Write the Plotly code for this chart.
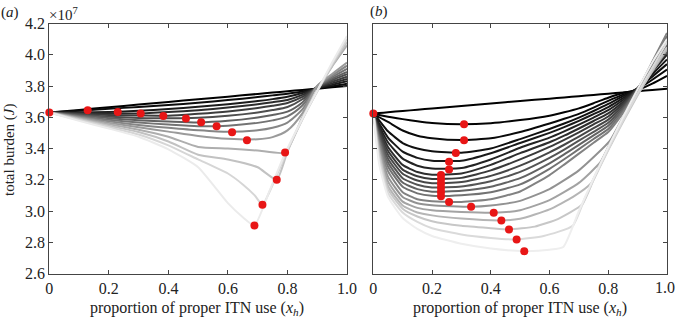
import plotly.graph_objects as go

# ---------------- data (total burden in units of 1e7) ----------------
x_ticks = [0, 0.2, 0.4, 0.6, 0.8, 1.0]
x_tick_text = ["0", "0.2", "0.4", "0.6", "0.8", "1.0"]
y_ticks = [2.6, 2.8, 3.0, 3.2, 3.4, 3.6, 3.8, 4.0, 4.2]
y_tick_text = ["2.6", "2.8", "3.0", "3.2", "3.4", "3.6", "3.8", "4.0", "4.2"]

# panel (a): darker curves on a common grid
a_x = [0, 0.1, 0.2, 0.3, 0.4, 0.5, 0.6, 0.7, 0.75, 0.8, 0.85, 0.9, 0.95, 1.0]
a_c0 = [3.630, 3.647, 3.664, 3.681, 3.698, 3.715, 3.732, 3.749, 3.758, 3.766, 3.775, 3.783, 3.792, 3.800]
a_c1 = [3.630, 3.642, 3.654, 3.666, 3.678, 3.693, 3.710, 3.729, 3.740, 3.751, 3.765, 3.785, 3.799, 3.815]
a_c2 = [3.630, 3.632, 3.634, 3.641, 3.653, 3.667, 3.684, 3.704, 3.716, 3.731, 3.755, 3.787, 3.807, 3.830]
a_c3 = [3.630, 3.627, 3.624, 3.624, 3.633, 3.645, 3.662, 3.683, 3.696, 3.711, 3.743, 3.789, 3.817, 3.845]
a_c4 = [3.630, 3.622, 3.614, 3.611, 3.610, 3.622, 3.637, 3.659, 3.673, 3.691, 3.730, 3.791, 3.827, 3.860]
a_c5 = [3.630, 3.617, 3.604, 3.596, 3.593, 3.597, 3.610, 3.631, 3.646, 3.666, 3.715, 3.793, 3.837, 3.875]
a_c6 = [3.630, 3.612, 3.594, 3.581, 3.573, 3.567, 3.577, 3.599, 3.615, 3.636, 3.695, 3.795, 3.847, 3.890]
a_c7 = [3.630, 3.607, 3.584, 3.566, 3.553, 3.543, 3.546, 3.564, 3.580, 3.606, 3.675, 3.797, 3.857, 3.910]
a_c8 = [3.630, 3.602, 3.574, 3.551, 3.533, 3.517, 3.507, 3.517, 3.533, 3.566, 3.650, 3.799, 3.867, 3.930]
a_c9 = [3.630, 3.597, 3.564, 3.536, 3.508, 3.480, 3.462, 3.459, 3.473, 3.516, 3.625, 3.801, 3.877, 3.950]
a_dark = [a_c0, a_c1, a_c2, a_c3, a_c4, a_c5, a_c6, a_c7, a_c8, a_c9]

# panel (a): lighter curves (own x points)
a_c10_x = [0, 0.1, 0.2, 0.3, 0.4, 0.5, 0.6, 0.7, 0.792, 0.85, 0.9, 0.95, 1.0]
a_c10_y = [3.630, 3.592, 3.555, 3.520, 3.475, 3.410, 3.400, 3.387, 3.374, 3.600, 3.775, 3.925, 4.060]
a_c11_x = [0, 0.1, 0.2, 0.3, 0.4, 0.5, 0.6, 0.7, 0.764, 0.8, 0.85, 0.9, 0.95, 1.0]
a_c11_y = [3.630, 3.587, 3.546, 3.505, 3.445, 3.360, 3.330, 3.280, 3.200, 3.380, 3.585, 3.765, 3.930, 4.080]
a_c12_x = [0, 0.1, 0.2, 0.3, 0.4, 0.5, 0.6, 0.65, 0.69, 0.716, 0.76, 0.8, 0.85, 0.9, 0.95, 1.0]
a_c12_y = [3.630, 3.582, 3.537, 3.490, 3.420, 3.330, 3.240, 3.170, 3.100, 3.040, 3.210, 3.390, 3.590, 3.770, 3.940, 4.100]
a_c13_x = [0, 0.1, 0.2, 0.3, 0.4, 0.5, 0.6, 0.65, 0.689, 0.74, 0.79, 0.85, 0.9, 0.95, 1.0]
a_c13_y = [3.630, 3.577, 3.528, 3.475, 3.395, 3.280, 3.050, 2.960, 2.907, 3.130, 3.360, 3.590, 3.770, 3.950, 4.120]
a_light_x = [a_c10_x, a_c11_x, a_c12_x, a_c13_x]
a_light_y = [a_c10_y, a_c11_y, a_c12_y, a_c13_y]

a_dot_x = [0, 0.129, 0.23, 0.307, 0.383, 0.459, 0.51, 0.562, 0.614, 0.664, 0.792, 0.764, 0.716, 0.689]
a_dot_y = [3.630, 3.645, 3.634, 3.624, 3.608, 3.592, 3.568, 3.542, 3.504, 3.453, 3.374, 3.200, 3.040, 2.907]

# panel (b): smoother curves on a common grid
b_x = [0, 0.02, 0.05, 0.1, 0.15, 0.2, 0.3, 0.4, 0.5, 0.6, 0.65, 0.7, 0.75, 0.8, 0.85, 0.9, 0.95, 1.0]
b_c0 = [3.624, 3.627, 3.632, 3.640, 3.648, 3.656, 3.672, 3.688, 3.704, 3.719, 3.727, 3.735, 3.743, 3.751, 3.759, 3.767, 3.775, 3.783]
b_c1 = [3.624, 3.615, 3.603, 3.588, 3.574, 3.563, 3.555, 3.562, 3.582, 3.610, 3.632, 3.657, 3.690, 3.725, 3.755, 3.775, 3.815, 3.865]
b_c2 = [3.624, 3.600, 3.570, 3.515, 3.482, 3.466, 3.454, 3.465, 3.505, 3.560, 3.590, 3.622, 3.662, 3.705, 3.745, 3.780, 3.840, 3.905]
b_c3 = [3.624, 3.580, 3.510, 3.435, 3.400, 3.383, 3.373, 3.400, 3.460, 3.525, 3.560, 3.598, 3.640, 3.685, 3.735, 3.785, 3.860, 3.940]
b_c4 = [3.624, 3.560, 3.470, 3.380, 3.340, 3.322, 3.322, 3.370, 3.435, 3.500, 3.537, 3.577, 3.620, 3.665, 3.722, 3.785, 3.875, 3.970]
b_c5 = [3.624, 3.545, 3.440, 3.335, 3.290, 3.272, 3.275, 3.330, 3.405, 3.470, 3.510, 3.553, 3.598, 3.645, 3.710, 3.785, 3.890, 4.000]
b_c6 = [3.624, 3.530, 3.410, 3.295, 3.250, 3.232, 3.240, 3.295, 3.370, 3.440, 3.482, 3.528, 3.576, 3.625, 3.698, 3.785, 3.900, 4.020]
b_c7 = [3.624, 3.515, 3.385, 3.265, 3.222, 3.205, 3.212, 3.260, 3.330, 3.410, 3.455, 3.503, 3.554, 3.605, 3.686, 3.785, 3.910, 4.040]
b_c8 = [3.624, 3.500, 3.360, 3.238, 3.195, 3.178, 3.185, 3.225, 3.290, 3.375, 3.424, 3.476, 3.530, 3.585, 3.674, 3.785, 3.920, 4.060]
b_c9 = [3.624, 3.485, 3.335, 3.210, 3.168, 3.151, 3.157, 3.190, 3.250, 3.340, 3.393, 3.450, 3.507, 3.565, 3.662, 3.780, 3.930, 4.080]
b_c10 = [3.624, 3.470, 3.310, 3.182, 3.140, 3.124, 3.129, 3.155, 3.210, 3.305, 3.362, 3.423, 3.484, 3.545, 3.650, 3.780, 3.940, 4.100]
b_c11 = [3.624, 3.455, 3.285, 3.155, 3.113, 3.097, 3.101, 3.120, 3.170, 3.270, 3.331, 3.396, 3.461, 3.525, 3.638, 3.775, 3.950, 4.120]
b_c12 = [3.624, 3.440, 3.255, 3.120, 3.075, 3.062, 3.058, 3.075, 3.125, 3.230, 3.297, 3.367, 3.437, 3.505, 3.626, 3.770, 3.955, 4.140]
b_smooth = [b_c0, b_c1, b_c2, b_c3, b_c4, b_c5, b_c6, b_c7, b_c8, b_c9, b_c10, b_c11, b_c12]

# panel (b): lightest curves with a corner (own x points)
b_c13_x = [0, 0.02, 0.05, 0.1, 0.15, 0.2, 0.333, 0.4, 0.5, 0.6, 0.7, 0.806, 0.85, 0.9, 0.95, 1.0]
b_c13_y = [3.624, 3.420, 3.220, 3.090, 3.050, 3.037, 3.027, 3.035, 3.065, 3.140, 3.260, 3.450, 3.600, 3.760, 3.910, 4.040]
b_c14_x = [0, 0.02, 0.05, 0.1, 0.15, 0.2, 0.3, 0.41, 0.5, 0.6, 0.7, 0.774, 0.81, 0.86, 0.91, 0.96, 1.0]
b_c14_y = [3.624, 3.400, 3.190, 3.060, 3.020, 3.005, 2.994, 2.989, 3.005, 3.070, 3.180, 3.314, 3.450, 3.620, 3.780, 3.920, 4.030]
b_c15_x = [0, 0.02, 0.05, 0.1, 0.15, 0.2, 0.3, 0.436, 0.5, 0.6, 0.68, 0.742, 0.78, 0.83, 0.88, 0.93, 1.0]
b_c15_y = [3.624, 3.380, 3.160, 3.035, 2.990, 2.972, 2.952, 2.940, 2.950, 3.010, 3.090, 3.178, 3.330, 3.510, 3.680, 3.840, 4.040]
b_c16_x = [0, 0.02, 0.05, 0.1, 0.15, 0.2, 0.3, 0.4, 0.462, 0.55, 0.63, 0.711, 0.75, 0.8, 0.85, 0.9, 0.95, 1.0]
b_c16_y = [3.624, 3.360, 3.140, 3.015, 2.965, 2.935, 2.905, 2.890, 2.882, 2.900, 2.950, 3.042, 3.200, 3.390, 3.570, 3.740, 3.900, 4.050]
b_c17_x = [0, 0.02, 0.05, 0.1, 0.15, 0.2, 0.3, 0.4, 0.488, 0.58, 0.679, 0.72, 0.77, 0.82, 0.87, 0.92, 0.96, 1.0]
b_c17_y = [3.624, 3.330, 3.115, 2.990, 2.930, 2.890, 2.850, 2.828, 2.818, 2.840, 2.906, 3.080, 3.280, 3.470, 3.650, 3.820, 3.950, 4.080]
b_c18_x = [0, 0.02, 0.05, 0.1, 0.15, 0.2, 0.3, 0.4, 0.514, 0.6, 0.647, 0.7, 0.75, 0.8, 0.85, 0.9, 0.95, 1.0]
b_c18_y = [3.624, 3.300, 3.090, 2.955, 2.885, 2.840, 2.790, 2.760, 2.743, 2.752, 2.770, 3.000, 3.210, 3.410, 3.600, 3.780, 3.950, 4.100]
b_light_x = [b_c13_x, b_c14_x, b_c15_x, b_c16_x, b_c17_x, b_c18_x]
b_light_y = [b_c13_y, b_c14_y, b_c15_y, b_c16_y, b_c17_y, b_c18_y]

b_dot_x = [0, 0.309, 0.309, 0.281, 0.258, 0.258, 0.2305, 0.2305, 0.2305, 0.2305, 0.2305, 0.2305,
           0.258, 0.333, 0.41, 0.436, 0.462, 0.488, 0.514]
b_dot_y = [3.624, 3.555, 3.453, 3.372, 3.315, 3.266, 3.230, 3.203, 3.176, 3.149, 3.122, 3.095,
           3.057, 3.027, 2.989, 2.940, 2.882, 2.818, 2.743]

# ---------------- figure ----------------
W, H = 677, 319
FONT = "Liberation Serif"
DOT = "rgb(232,22,22)"
TXT = "#222"


def gray(level):
    v = int(round(level))
    return f"rgb({v},{v},{v})"


fig = go.Figure()

n_a = len(a_dark) + len(a_light_x)
a_all_x = [a_x] * len(a_dark) + a_light_x
a_all_y = a_dark + a_light_y
for i, (xs, ys) in enumerate(zip(a_all_x, a_all_y)):
    lv = 235 * (i / (n_a - 1)) ** 1.15
    fig.add_trace(go.Scatter(x=xs, y=ys, mode="lines", xaxis="x", yaxis="y",
                             line=dict(color=gray(lv), width=2, shape="spline",
                                       smoothing=0.7 if i < len(a_dark) else 0.5),
                             showlegend=False, hoverinfo="skip"))
fig.add_trace(go.Scatter(x=a_dot_x, y=a_dot_y, mode="markers", xaxis="x", yaxis="y",
                         marker=dict(color=DOT, size=8), cliponaxis=False,
                         showlegend=False, hoverinfo="skip"))

b_all_x = [b_x] * len(b_smooth) + b_light_x
b_all_y = b_smooth + b_light_y
n_b = len(b_all_y)
for i, (xs, ys) in enumerate(zip(b_all_x, b_all_y)):
    lv = 238 * (i / (n_b - 1)) ** 1.5
    fig.add_trace(go.Scatter(x=xs, y=ys, mode="lines", xaxis="x2", yaxis="y2",
                             line=dict(color=gray(lv), width=2, shape="spline", smoothing=0.5),
                             showlegend=False, hoverinfo="skip"))
fig.add_trace(go.Scatter(x=b_dot_x, y=b_dot_y, mode="markers", xaxis="x2", yaxis="y2",
                         marker=dict(color=DOT, size=8), cliponaxis=False,
                         showlegend=False, hoverinfo="skip"))

axis_common = dict(showgrid=False, zeroline=False, showline=True, linecolor="#444", linewidth=1,
                   mirror="ticks", ticks="inside", ticklen=4, tickwidth=1, tickcolor="#444",
                   automargin=False,
                   tickfont=dict(family=FONT, size=16, color=TXT))

ydom = [1 - 273.5 / H, 1 - 23.5 / H]
fig.update_layout(
    template="none",
    width=W, height=H,
    margin=dict(l=0, r=0, t=0, b=0, pad=0),
    paper_bgcolor="white", plot_bgcolor="white",
    hovermode=False,
    xaxis=dict(domain=[49.3 / W, 347.0 / W], range=[0, 1], tickvals=x_ticks, ticktext=x_tick_text,
               anchor="y", **axis_common),
    yaxis=dict(domain=ydom, range=[2.6, 4.2], tickvals=y_ticks, ticktext=y_tick_text,
               anchor="x", **axis_common),
    xaxis2=dict(domain=[373.3 / W, 667.0 / W], range=[0, 1], tickvals=x_ticks,
                ticktext=x_tick_text[:-1] + [""], anchor="y2", **axis_common),
    yaxis2=dict(domain=ydom, range=[2.6, 4.2], tickvals=y_ticks, showticklabels=False,
                anchor="x2", **axis_common),
)


def px(xp, yp):
    return xp / W, 1 - yp / H


annotations = []
for text, (xp, yp), xa, ya, angle, size in [
    ("(<i>a</i>)", (10, 13), "center", "middle", 0, 15),
    ("(<i>b</i>)", (379, 12), "center", "middle", 0, 15),
    ("×10<sup>7</sup>", (48, 14), "left", "middle", 0, 15),
    ("total burden (<i>J</i>)", (9, 150), "center", "middle", -90, 15),
    ("proportion of proper ITN use (<i>x<sub>h</sub></i>)", (197, 318.5), "center", "bottom", 0, 16),
    ("proportion of proper ITN use (<i>x<sub>h</sub></i>)", (520, 318.5), "center", "bottom", 0, 16),
    (x_tick_text[-1], (676, 287), "right", "middle", 0, 16),
]:
    ax_, ay_ = px(xp, yp)
    annotations.append(dict(text=text, x=ax_, y=ay_, xref="paper", yref="paper",
                            xanchor=xa, yanchor=ya, showarrow=False, borderpad=0,
                            textangle=angle, font=dict(family=FONT, size=size, color=TXT)))
fig.update_layout(annotations=annotations)

fig.write_html("out.html",
               config={"displayModeBar": False},
               post_script="document.body.style.margin='0px';document.body.style.padding='0px';")
